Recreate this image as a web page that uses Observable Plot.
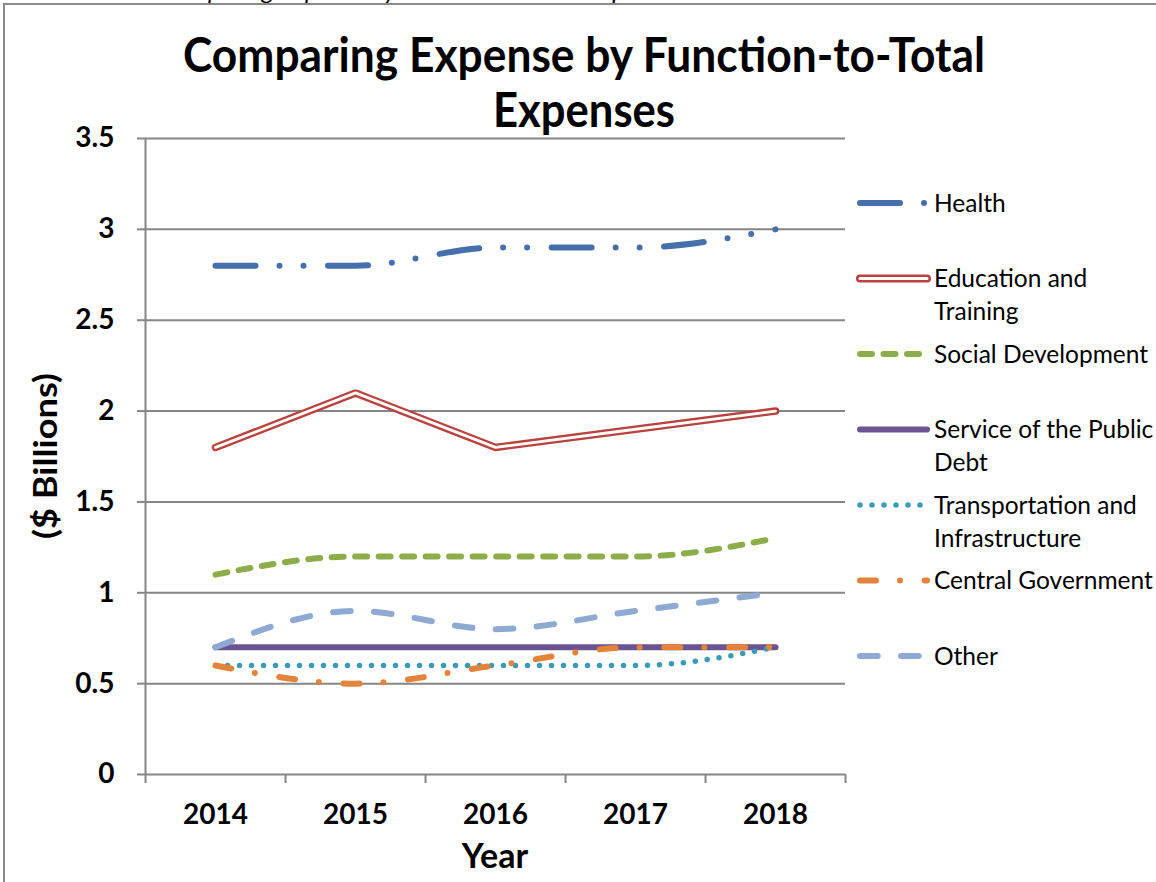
<!DOCTYPE html>
<html>
<head>
<meta charset="utf-8">
<script src="https://cdn.jsdelivr.net/npm/d3@7"></script>
<script src="https://cdn.jsdelivr.net/npm/@observablehq/plot@0.6"></script>
<style>
  html, body { margin: 0; padding: 0; background: #fff; }
  #wrap { position: relative; width: 1156px; height: 882px; overflow: hidden; }
  #wrap > svg { position: absolute; left: 0; top: 0; }
  #overlay { pointer-events: none; }
</style>
</head>
<body>
<div id="wrap"></div>
<script>
// ---- data ----
const years = [2014, 2015, 2016, 2017, 2018];
const seriesNames = ["Health", "Education and Training", "Social Development",
  "Service of the Public Debt", "Transportation and Infrastructure", "Central Government", "Other"];
const health    = [2.8, 2.8, 2.9, 2.9, 3.0];
const education = [1.8, 2.1, 1.8, 1.9, 2.0];
const social    = [1.1, 1.2, 1.2, 1.2, 1.3];
const debt      = [0.7, 0.7, 0.7, 0.7, 0.7];
const transport = [0.6, 0.6, 0.6, 0.6, 0.7];
const central   = [0.6, 0.5, 0.6, 0.7, 0.7];
const other     = [0.7, 0.9, 0.8, 0.9, 1.0];
const yTicks = [0, 0.5, 1, 1.5, 2, 2.5, 3, 3.5];
const legendLabels = [["Health"], ["Education and", "Training"], ["Social Development"],
  ["Service of the Public", "Debt"], ["Transportation and", "Infrastructure"], ["Central Government"], ["Other"]];
const titleLines = ["Comparing Expense by Function-to-Total", "Expenses"];
const captionText = "Comparing Expense by Function-to-Total Expenses";
const xTitle = "Year";
const yTitle = "($ Billions)";

// ---- styles ----
const seriesValues = [health, education, social, debt, transport, central, other];
const styles = [
  {stroke: "#4570AB", width: 6, dash: "40,24,0,24,0,24.5", curve: "monotone-x"},
  {stroke: "#B9423F", width: 7.5, dash: null, curve: "linear", double: true},
  {stroke: "#8DAD4A", width: 6, dash: "12,11.5", curve: "monotone-x"},
  {stroke: "#6B5490", width: 6, dash: null, curve: "monotone-x"},
  {stroke: "#3A9BB5", width: 5.5, dash: "0,12", curve: "monotone-x"},
  {stroke: "#E4843A", width: 6, dash: "16,24,0,24.7", curve: "monotone-x"},
  {stroke: "#8EA9D2", width: 6, dash: "17.7,23.3", curve: "monotone-x"}
];

const rows = vals => years.map((year, i) => ({year, value: vals[i]}));
const xDomain = [years[0] - 0.5, years[years.length - 1] + 0.5];
const boundaries = [...years.map(y => y - 0.5), years[years.length - 1] + 0.5];
const gridColor = "#868686";

const lineMarks = [];
seriesValues.forEach((vals, i) => {
  const s = styles[i];
  if (s.double) {
    lineMarks.push(Plot.line(rows(vals), {x: "year", y: "value", stroke: s.stroke, strokeWidth: s.width,
      strokeLinecap: "round", strokeLinejoin: "miter", curve: s.curve}));
    lineMarks.push(Plot.line(rows(vals), {x: "year", y: "value", stroke: "#fff", strokeWidth: 2.8,
      strokeLinecap: "round", strokeLinejoin: "miter", curve: s.curve}));
  } else {
    lineMarks.push(Plot.line(rows(vals), {x: "year", y: "value", stroke: s.stroke, strokeWidth: s.width,
      strokeDasharray: s.dash ?? undefined, strokeLinecap: "round", strokeLinejoin: "round", curve: s.curve}));
  }
});

const chart = Plot.plot({
  width: 1156,
  height: 882,
  marginLeft: 145,
  marginRight: 311,
  marginTop: 138,
  marginBottom: 108,
  style: {fontFamily: "Lato, 'Open Sans', sans-serif", background: "transparent", color: "#000"},
  x: {type: "linear", domain: xDomain},
  y: {domain: [0, 3.5]},
  marks: [
    Plot.gridY(yTicks.filter(v => v > 0), {stroke: gridColor, strokeOpacity: 1, strokeWidth: 2}),
    Plot.ruleY([0], {stroke: gridColor, strokeWidth: 2}),
    Plot.ruleX([xDomain[0]], {stroke: gridColor, strokeWidth: 2}),
    Plot.axisY(yTicks, {tickSize: 8, tickPadding: 23, stroke: gridColor, strokeWidth: 2, fill: "#000",
      fontSize: 28, fontWeight: "bold", tickFormat: d => String(d), label: null}),
    Plot.axisX(boundaries, {tickSize: 9, stroke: gridColor, strokeWidth: 2, tickFormat: () => "", label: null}),
    Plot.axisX(years, {tickSize: 0, tickPadding: 30, fill: "#000", fontSize: 28, fontWeight: "bold",
      tickFormat: d => String(d), label: null}),
    ...lineMarks
  ]
});

const wrap = document.getElementById("wrap");
wrap.appendChild(chart);

// ---- overlay: frame, titles, legend ----
const svg = d3.select(wrap).append("svg")
  .attr("id", "overlay")
  .attr("width", 1156).attr("height", 882)
  .style("font-family", "Lato, 'Open Sans', sans-serif");

// partially visible caption above the frame (cut off in the reference too)
svg.append("text").attr("x", 160).attr("y", -1.5)
  .attr("font-size", 22).attr("font-style", "italic")
  .attr("textLength", 523).attr("lengthAdjust", "spacingAndGlyphs")
  .text(captionText);

// outer frame
svg.append("path").attr("d", "M4,882 V4 H1156").attr("fill", "none")
  .attr("stroke", "#8a8a8a").attr("stroke-width", 2);

// title
const tl = [{x: 183, y: 72, w: 802}, {x: 493, y: 127, w: 182}];
titleLines.forEach((t, i) => {
  svg.append("text").attr("x", tl[i].x).attr("y", tl[i].y)
    .attr("font-size", 48).attr("font-weight", "bold")
    .attr("textLength", tl[i].w).attr("lengthAdjust", "spacingAndGlyphs")
    .text(t);
});

// axis titles
svg.append("text").attr("x", 495).attr("y", 868).attr("text-anchor", "middle")
  .attr("font-size", 34).attr("font-weight", "bold").text(xTitle);
svg.append("text").attr("transform", "translate(57,456) rotate(-90)").attr("text-anchor", "middle")
  .attr("font-size", 33).attr("font-weight", "bold")
  .attr("textLength", 166).attr("lengthAdjust", "spacingAndGlyphs").text(yTitle);

// legend
seriesNames.forEach((name, i) => {
  const s = styles[i];
  const y = 203 + i * 75.5;
  const g = svg.append("g");
  if (s.double) {
    g.append("line").attr("x1", 860).attr("x2", 927).attr("y1", y).attr("y2", y)
      .attr("stroke", s.stroke).attr("stroke-width", 8).attr("stroke-linecap", "round");
    g.append("line").attr("x1", 860).attr("x2", 927).attr("y1", y).attr("y2", y)
      .attr("stroke", "#fff").attr("stroke-width", 3).attr("stroke-linecap", "round");
  } else {
    g.append("line").attr("x1", 860).attr("x2", 927).attr("y1", y).attr("y2", y)
      .attr("stroke", s.stroke).attr("stroke-width", Math.min(s.width, 6))
      .attr("stroke-dasharray", s.dash).attr("stroke-linecap", "round");
  }
  legendLabels[i].forEach((line, j) => {
    g.append("text").attr("x", 934).attr("y", y + 8.5 + j * 33)
      .attr("font-size", 24.5).text(line);
  });
});
</script>
</body>
</html>
